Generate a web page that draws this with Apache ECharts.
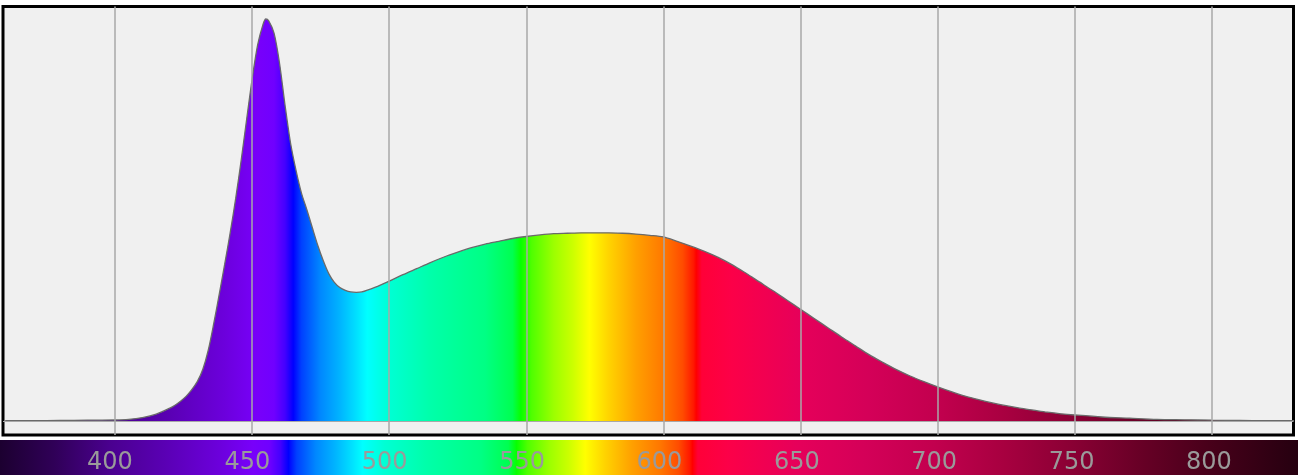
<!DOCTYPE html>
<html>
<head>
<meta charset="utf-8">
<title>Emission spectrum</title>
<script src="https://cdn.jsdelivr.net/npm/echarts@6/dist/echarts.min.js"></script>
<style>
  html, body { margin: 0; padding: 0; background: #ffffff; }
  #chart { width: 1298px; height: 475px; }
</style>
</head>
<body>
<div id="chart"></div>
<script>
// Wavelength samples (nm) and relative spectral intensity (peak = 1)
const wavelengths = [
  360, 370, 380, 390, 400, 405, 410, 415,
  420, 422, 424, 426, 428, 430, 432, 434, 436, 438, 440, 442, 444, 446, 448,
  450, 452, 454, 455, 456, 458, 460, 462, 464, 466, 468, 470, 472, 474, 476,
  478, 480, 482, 484, 486, 488, 490,
  495, 500, 505, 510, 515, 520, 525, 530, 535, 540, 545, 550, 555, 560, 565,
  570, 575, 580, 585, 590, 595, 600, 605, 610, 615, 620, 625, 630, 635, 640,
  645, 650, 655, 660, 665, 670, 675, 680, 685, 690, 695, 700, 705, 710, 715,
  720, 725, 730, 735, 740, 745, 750, 760, 770, 780, 790, 800, 810, 820, 830
];
const intensity = [
  0.001, 0.001, 0.0015, 0.002, 0.0025, 0.004, 0.0085, 0.017,
  0.032, 0.040, 0.050, 0.062, 0.078, 0.098, 0.128, 0.176, 0.242, 0.315, 0.390, 0.468, 0.553, 0.648, 0.750,
  0.850, 0.935, 0.987, 1.000, 0.996, 0.965, 0.890, 0.786, 0.692, 0.624, 0.567, 0.525, 0.480, 0.436, 0.398,
  0.366, 0.345, 0.332, 0.325, 0.321, 0.320, 0.321,
  0.333, 0.348, 0.364, 0.379, 0.394, 0.408, 0.420, 0.431, 0.440, 0.447, 0.454, 0.459, 0.463, 0.466, 0.467,
  0.468, 0.468, 0.468, 0.467, 0.465, 0.462, 0.458, 0.447, 0.435, 0.422, 0.407, 0.389, 0.368, 0.346, 0.324,
  0.301, 0.278, 0.255, 0.232, 0.209, 0.187, 0.165, 0.146, 0.128, 0.112, 0.098, 0.085, 0.073, 0.062, 0.053,
  0.045, 0.038, 0.032, 0.027, 0.022, 0.018, 0.015, 0.010, 0.007, 0.004, 0.003, 0.002, 0.0015, 0.001, 0.001
];

// Wavelength tick marks (grid lines and colour-bar labels)
const tickWavelengths = [400, 450, 500, 550, 600, 650, 700, 750, 800];

// Approximate visible-spectrum colours by wavelength (nm)
const spectrumStops = [
  [360, '#1c0030'], [380, '#300058'], [400, '#4a008f'], [420, '#5a00b4'],
  [440, '#6c00dc'], [452, '#7800fa'], [458, '#7000ff'], [462, '#4400ff'],
  [465, '#0000ff'], [468, '#0040ff'], [475, '#0088ff'], [482, '#00b4ff'],
  [488, '#00e0ff'], [492, '#00ffff'], [500, '#00ffd4'], [515, '#00ffaa'],
  [535, '#00ff84'], [545, '#00ff50'], [548, '#08ff00'], [552, '#50ff00'],
  [560, '#9cff00'], [567, '#ccff00'], [573, '#ffff00'], [580, '#ffd400'],
  [590, '#ffa000'], [600, '#ff7800'], [607, '#ff4c00'], [611, '#ff1800'],
  [612, '#ff0000'], [614, '#ff0038'], [625, '#fc0048'], [650, '#e6005a'],
  [675, '#d40058'], [700, '#c2004e'], [725, '#a80040'], [750, '#8a0034'],
  [775, '#680026'], [800, '#48001a'], [832, '#260010']
];

// Horizontal gradient across a wavelength span [lo, hi]
function spectrumGradient(lo, hi) {
  const stops = spectrumStops.map(([nm, color]) => ({
    offset: Math.min(1, Math.max(0, (nm - lo) / (hi - lo))),
    color
  }));
  return new echarts.graphic.LinearGradient(0, 0, 1, 0, stops);
}

const spectrumData = wavelengths.map((nm, i) => [nm, intensity[i]]);
const plotMin = 359.15, plotMax = 829.8;
const barMin = 360, barMax = 832.4;

const chart = echarts.init(document.getElementById('chart'), null, { renderer: 'canvas' });

chart.setOption({
  animation: false,
  backgroundColor: '#ffffff',
  grid: [
    {
      left: 3, right: 4.5, top: 6.5, bottom: 40,
      show: true,
      backgroundColor: '#f0f0f0',
      borderColor: '#000000',
      borderWidth: 3,
      z: 0
    },
    { left: 0, right: 0, top: 440, bottom: 0 }
  ],
  xAxis: [
    {
      gridIndex: 0, type: 'value', min: plotMin, max: plotMax,
      axisLine: { show: false }, axisTick: { show: false },
      axisLabel: { show: false }, splitLine: { show: false }
    },
    {
      gridIndex: 1, type: 'value', min: barMin, max: barMax,
      position: 'top',
      axisLine: { show: false },
      splitLine: { show: false },
      axisTick: {
        show: true, inside: true, length: 6,
        customValues: tickWavelengths,
        lineStyle: { color: '#9a9a9a', width: 3.5 }
      },
      axisLabel: {
        show: true, inside: true, margin: 11,
        customValues: tickWavelengths,
        color: '#9a9a9a',
        fontFamily: 'DejaVu Sans',
        fontSize: 24,
        lineHeight: 24
      },
      z: 5
    }
  ],
  yAxis: [
    { gridIndex: 0, type: 'value', min: -0.0348, max: 1.0311, show: false },
    { gridIndex: 1, type: 'value', min: 0, max: 1, show: false }
  ],
  series: [
    {
      // Vertical wavelength grid lines and the zero baseline, beneath the spectrum
      type: 'line',
      xAxisIndex: 0, yAxisIndex: 0,
      data: [],
      z: 1,
      silent: true,
      markLine: {
        silent: true,
        symbol: 'none',
        label: { show: false },
        animation: false,
        data: [
          ...tickWavelengths.map(nm => ({ xAxis: nm, lineStyle: { color: '#a8a8a8', width: 1.5, type: 'solid' } })),
          { yAxis: 0, lineStyle: { color: '#a8a8a8', width: 1.2, type: 'solid' } }
        ]
      }
    },
    {
      // Spectrum curve filled with spectral colours
      type: 'line',
      xAxisIndex: 0, yAxisIndex: 0,
      data: spectrumData,
      z: 2,
      smooth: 0.3,
      symbol: 'none',
      lineStyle: { color: '#6a6a6a', width: 1.3 },
      areaStyle: { color: spectrumGradient(360, 830), opacity: 1 }
    },
    {
      // Colour bar below the plot
      type: 'line',
      xAxisIndex: 1, yAxisIndex: 1,
      data: [[barMin, 1], [barMax, 1]],
      z: 2,
      symbol: 'none',
      silent: true,
      lineStyle: { width: 0 },
      areaStyle: { color: spectrumGradient(barMin, barMax), opacity: 1 }
    }
  ]
});
</script>
</body>
</html>
